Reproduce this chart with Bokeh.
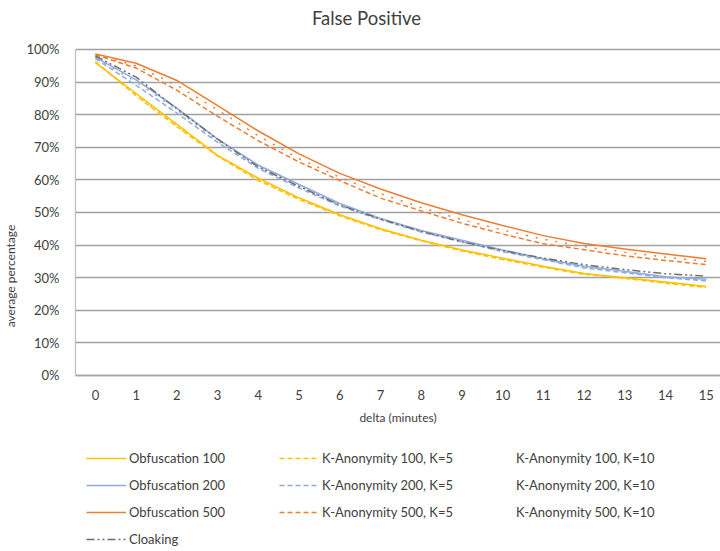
from bokeh.plotting import figure
from bokeh.models import Legend, LegendItem, FixedTicker, PrintfTickFormatter, Range1d, Label
from bokeh.embed import file_html
from bokeh.resources import INLINE

delta = list(range(16))
x_labels = [str(d) for d in delta]
y_ticks = [0, 10, 20, 30, 40, 50, 60, 70, 80, 90, 100]

obf100 = [96, 86.5, 77, 67.5, 60.5, 54.5, 49.3, 45, 41.5, 38.5, 36, 33.5, 31.3, 30, 28.7, 27.3]
k5_100 = [96.3, 85.8, 76.3, 67.3, 59.8, 54, 49, 44.7, 41.3, 38.2, 35.6, 33.2, 31, 29.8, 28.3, 27]
k10_100 = [96.2, 86, 76.6, 67.4, 60.2, 54.3, 49.2, 44.9, 41.4, 38.3, 35.8, 33.4, 31.2, 29.9, 28.5, 27.2]
obf200 = [97.6, 90.7, 82, 72.5, 64.5, 58.6, 52.8, 48.2, 44.5, 41.5, 38.5, 35.8, 33.5, 32, 30.3, 29.5]
k5_200 = [97.2, 89, 80.5, 71.5, 63.5, 57.5, 52, 47.8, 44, 41, 38, 35.5, 33, 31.5, 30, 29]
k10_200 = [97.4, 90, 81.5, 72, 64, 58, 52.4, 48, 44.3, 41.2, 38.3, 35.6, 33.3, 31.8, 30.2, 29.3]
obf500 = [98.6, 95.8, 90.5, 82.8, 75, 68, 62, 57.2, 53, 49.3, 46, 42.9, 40.5, 38.8, 37.3, 35.8]
k5_500 = [98.4, 94.3, 87.5, 79.5, 72, 65.5, 59.8, 54.4, 50.5, 46.7, 43.4, 40.4, 38.6, 36.7, 35.3, 34]
k10_500 = [98.5, 95, 89, 81.5, 73.5, 66.5, 60.8, 55.8, 51.5, 47.8, 44.6, 41.8, 39.5, 37.8, 36.3, 35]
cloaking = [98, 91.5, 81.8, 72.5, 64, 58, 52.3, 48, 44.2, 41, 38.3, 36, 34, 32.5, 31.2, 30.5]

YEL = "#FFC000"
BLU = "#8FAADC"
ORA = "#ED7D31"
GRY = "#6E6E6E"
FONT = "Lato"
TXT = "#404040"

# frame spans the full canvas height; the value axis occupies 0..100 inside it
p = figure(width=720, height=551, x_range=Range1d(-0.49, 15.35), y_range=Range1d(-54, 115.03),
           output_backend="svg", toolbar_location=None,
           min_border_left=75, min_border_right=0, min_border_top=0, min_border_bottom=0)
p.outline_line_color = None
p.background_fill_color = "white"

# axes
p.xaxis.ticker = FixedTicker(ticks=delta)
p.xaxis.major_label_overrides = {d: s for d, s in zip(delta, x_labels)}
p.xaxis.fixed_location = 0
p.yaxis.ticker = FixedTicker(ticks=y_ticks)
p.yaxis.formatter = PrintfTickFormatter(format="%d%%")
p.yaxis.bounds = (0, 100)
for ax in (p.xaxis[0], p.yaxis[0]):
    ax.major_tick_in = 0
    ax.major_tick_out = 0
    ax.minor_tick_in = 0
    ax.minor_tick_out = 0
    ax.major_label_text_font = FONT
    ax.major_label_text_font_size = "13px"
    ax.major_label_text_color = TXT
    ax.axis_label_text_font = FONT
    ax.axis_label_text_font_size = "12px"
    ax.axis_label_text_font_style = "normal"
    ax.axis_label_text_color = TXT
    ax.major_label_standoff = 15
p.yaxis.major_label_standoff = 16
p.xaxis.axis_label = "delta (minutes)"
p.yaxis.axis_label = "average percentage"
p.xaxis.axis_line_color = "#A6A6A6"
p.xaxis.axis_line_width = 1.3
p.yaxis.axis_line_color = "#BFBFBF"
p.yaxis.axis_line_width = 1.3
p.xaxis.axis_label_standoff = 6
p.yaxis.axis_label_standoff = 5

p.xgrid.grid_line_color = None
p.ygrid.grid_line_color = "#A0A0A0"
p.ygrid.grid_line_width = 1.3

p.add_layout(Label(x=291, y=534, x_units="screen", y_units="screen", text="False Positive",
                   text_font=FONT, text_font_size="18.5px", text_color=TXT,
                   text_align="center", text_baseline="middle"))

LW = 1.5
DASH = "5 3"
DOT = "2 8"
CLOAK = "8 3 2 3 2 3"

r_o100 = p.line(delta, obf100, line_color=YEL, line_width=LW)
r_k5_100 = p.line(delta, k5_100, line_color=YEL, line_width=LW, line_dash=DASH)
r_k10_100 = p.line(delta, k10_100, line_color=YEL, line_width=LW, line_dash=DOT)
r_o200 = p.line(delta, obf200, line_color=BLU, line_width=LW)
r_k5_200 = p.line(delta, k5_200, line_color=BLU, line_width=LW, line_dash=DASH)
r_k10_200 = p.line(delta, k10_200, line_color=BLU, line_width=LW, line_dash=DOT)
r_o500 = p.line(delta, obf500, line_color=ORA, line_width=LW)
r_k5_500 = p.line(delta, k5_500, line_color=ORA, line_width=LW, line_dash=DASH)
r_k10_500 = p.line(delta, k10_500, line_color=ORA, line_width=LW, line_dash=DOT)
r_cl = p.line(delta, cloaking, line_color=GRY, line_width=LW, line_dash=CLOAK)

# legend-only glyphs for the sparse dotted K=10 samples (a single dot)
SPARSE = "0 6 2 60"
d100 = p.line([], [], line_color=YEL, line_width=LW, line_dash=SPARSE)
d200 = p.line([], [], line_color=BLU, line_width=LW, line_dash=SPARSE)
d500 = p.line([], [], line_color=ORA, line_width=LW, line_dash=SPARSE)


def make_legend(items, loc):
    lg = Legend(items=items, location=loc, orientation="vertical",
                glyph_width=40, glyph_height=20, label_height=20, label_standoff=3,
                spacing=7, padding=0, margin=0,
                label_text_font=FONT, label_text_font_size="13px", label_text_color=TXT,
                background_fill_alpha=0, border_line_alpha=0)
    p.add_layout(lg, "center")
    return lg


make_legend([LegendItem(label="Obfuscation 100", renderers=[r_o100]),
             LegendItem(label="Obfuscation 200", renderers=[r_o200]),
             LegendItem(label="Obfuscation 500", renderers=[r_o500]),
             LegendItem(label="Cloaking", renderers=[r_cl])], (11, 2))
make_legend([LegendItem(label="K-Anonymity 100, K=5", renderers=[r_k5_100]),
             LegendItem(label="K-Anonymity 200, K=5", renderers=[r_k5_200]),
             LegendItem(label="K-Anonymity 500, K=5", renderers=[r_k5_500])], (204, 29))
make_legend([LegendItem(label="K-Anonymity 100, K=10", renderers=[d100]),
             LegendItem(label="K-Anonymity 200, K=10", renderers=[d200]),
             LegendItem(label="K-Anonymity 500, K=10", renderers=[d500])], (398, 29))

open("out.html", "w").write(file_html(p, INLINE))
